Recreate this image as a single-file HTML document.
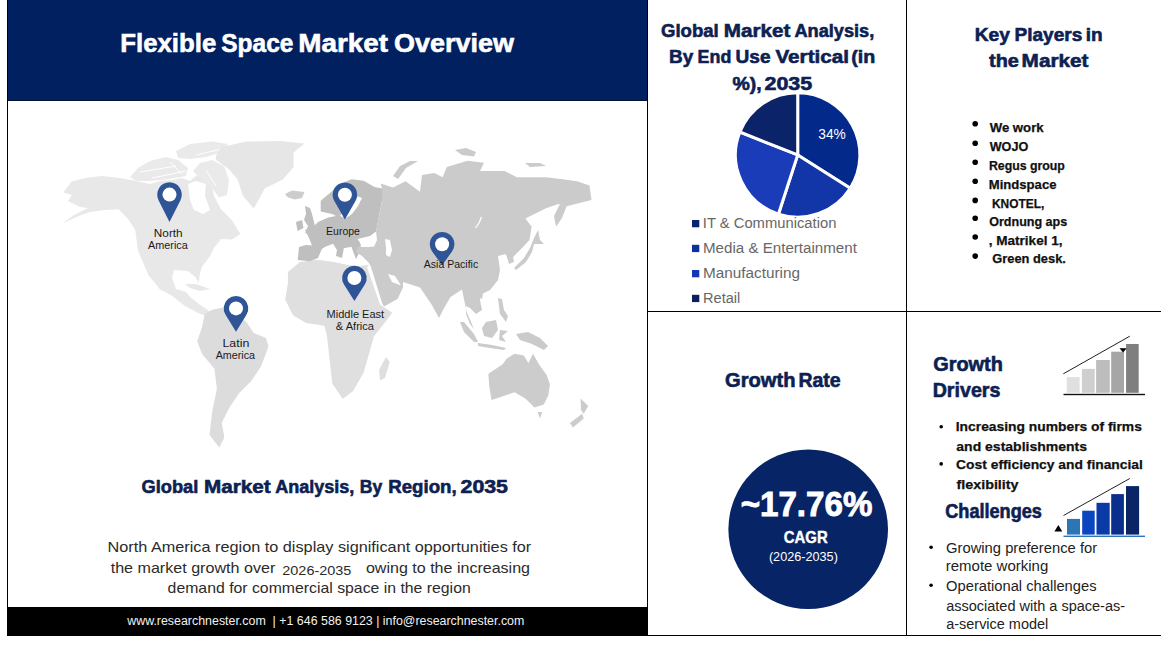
<!DOCTYPE html><html><head><meta charset="utf-8"><style>html,body{margin:0;padding:0;background:#fff;width:1161px;height:651px;overflow:hidden}svg{display:block;font-family:"Liberation Sans",sans-serif}</style></head><body>
<svg width="1161" height="651" viewBox="0 0 1161 651">
<rect x="0" y="0" width="1161" height="651" fill="#fff"/>
<rect x="7" y="0" width="641" height="100" fill="#002060"/>
<rect x="7" y="100" width="641" height="1" fill="#061336"/>
<rect x="7" y="0" width="1" height="636" fill="#000"/>
<rect x="647" y="0" width="1" height="636" fill="#000"/>
<rect x="7" y="607" width="641" height="29" fill="#000"/>
<text x="120.28" y="51.8" font-size="25.87" font-weight="bold" fill="#fff" textLength="96.01" lengthAdjust="spacingAndGlyphs" stroke="#fff" stroke-width="0.6" >Flexible</text>
<text x="221.29" y="51.8" font-size="25.87" font-weight="bold" fill="#fff" textLength="72.14" lengthAdjust="spacingAndGlyphs" stroke="#fff" stroke-width="0.6" >Space</text>
<text x="298.24" y="51.8" font-size="25.87" font-weight="bold" fill="#fff" textLength="89.70" lengthAdjust="spacingAndGlyphs" stroke="#fff" stroke-width="0.6" >Market</text>
<text x="393.99" y="51.8" font-size="25.87" font-weight="bold" fill="#fff" textLength="119.95" lengthAdjust="spacingAndGlyphs" stroke="#fff" stroke-width="0.6" >Overview</text>
<path d="M63.3,192.6 L71.6,181.5 L85.0,178.0 L102.0,176.0 L120.0,178.0 L138.0,181.5 L150.0,184.0 L160.0,181.0 L172.0,180.0 L182.0,178.0 L190.0,181.0 L196.0,176.0 L206.0,178.0 L212.0,186.0 L214.0,196.0 L221.0,209.2 L232.0,220.2 L240.3,234.0 L232.0,239.6 L221.0,239.0 L214.0,248.0 L209.9,256.2 L201.6,267.2 L199.5,276.0 L198.8,283.0 L195.5,277.0 L188.0,271.0 L174.0,270.0 L172.0,278.0 L176.0,289.0 L186.0,292.0 L190.0,297.0 L199.0,304.0 L210.0,311.5 L206.0,316.0 L198.0,313.0 L185.0,306.0 L171.0,295.0 L160.0,289.4 L149.0,275.5 L155.0,290.0 L146.3,270.0 L138.0,250.6 L135.2,230.0 L128.0,219.0 L118.6,209.2 L104.0,210.0 L90.0,212.0 L76.0,217.0 L62.0,224.0 L74.0,215.0 L88.0,208.0 L80.0,207.0 L68.0,201.0 L72.0,195.0 Z" fill="#e8e8e8"/>
<path d="M188.0,184.0 L196.0,181.0 L206.0,184.0 L205.0,196.0 L210.0,210.0 L203.0,214.0 L194.0,210.0 L190.0,200.0 Z" fill="#fff"/>
<path d="M130.0,177.0 L138.0,168.0 L150.0,161.0 L166.0,157.0 L178.0,160.0 L188.0,168.0 L186.0,176.0 L170.0,179.0 L150.0,181.0 L136.0,181.0 Z" fill="#eaeaea"/>
<path d="M176.0,151.0 L190.0,144.0 L212.0,141.5 L228.0,144.0 L222.0,152.0 L206.0,157.0 L190.0,159.0 L178.0,158.0 Z" fill="#eaeaea"/>
<path d="M193.0,171.0 L200.0,163.0 L212.0,160.0 L224.0,166.0 L229.0,180.0 L227.0,195.0 L219.0,197.5 L211.0,187.0 L200.0,179.0 Z" fill="#eaeaea"/>
<line x1="140" y1="172" x2="176" y2="166" stroke="#fff" stroke-width="1"/>
<line x1="152" y1="178" x2="186" y2="171" stroke="#fff" stroke-width="1"/>
<line x1="170" y1="162" x2="182" y2="174" stroke="#fff" stroke-width="1"/>
<line x1="196" y1="155" x2="222" y2="149" stroke="#fff" stroke-width="1"/>
<line x1="206" y1="170" x2="216" y2="186" stroke="#fff" stroke-width="1"/>
<path d="M215.9,156.0 L221.3,147.0 L246.6,141.6 L280.0,141.0 L304.5,143.4 L293.6,152.5 L293.6,167.0 L282.8,179.6 L264.7,188.6 L253.8,208.5 L243.0,195.9 L237.6,179.6 L228.5,168.7 L215.9,159.7 Z" fill="#e6e6e6"/>
<path d="M285.0,194.0 L292.0,190.5 L304.5,192.0 L302.0,198.0 L295.0,199.5 L288.0,197.5 Z" fill="#cdcdcd"/>
<path d="M185.0,284.0 L196.0,284.0 L210.0,289.0 L200.0,291.0 L190.0,288.0 Z" fill="#e8e8e8"/>
<path d="M204.6,314.6 L212.0,309.7 L224.3,307.2 L235.0,312.0 L246.4,322.0 L253.8,333.0 L266.0,338.0 L268.5,346.6 L261.1,366.2 L251.3,381.0 L239.0,393.3 L229.2,408.0 L221.8,422.8 L224.3,437.5 L219.3,447.4 L209.5,435.0 L212.0,413.0 L216.9,388.4 L214.4,368.7 L202.1,354.0 L197.2,341.6 L202.1,326.9 Z" fill="#dcdcdc"/>
<path d="M288.0,272.0 L300.0,262.0 L317.6,259.8 L334.0,262.0 L348.0,265.0 L360.0,266.0 L369.0,265.0 L367.0,267.0 L380.0,304.6 L392.3,312.7 L384.5,323.1 L374.0,336.2 L368.8,354.5 L363.6,372.7 L353.1,391.0 L342.7,398.9 L332.2,383.2 L329.6,359.7 L327.0,336.2 L324.4,325.7 L306.1,323.1 L293.0,315.3 L285.2,299.6 L287.8,284.0 Z" fill="#dfdfdf"/>
<path d="M386.0,357.0 L389.7,362.0 L385.0,378.0 L380.0,380.6 L379.0,370.0 Z" fill="#dfdfdf"/>
<path d="M297.7,260.0 L299.0,247.0 L306.0,245.0 L312.0,245.5 L309.0,238.0 L305.0,230.0 L312.0,228.0 L318.0,222.0 L328.4,217.6 L336.0,216.0 L332.0,214.0 L320.7,211.5 L320.7,200.7 L330.0,193.0 L340.7,183.8 L351.4,179.2 L363.7,180.8 L374.5,186.9 L382.0,188.4 L382.0,200.7 L376.0,231.4 L370.0,236.0 L357.6,239.0 L360.7,242.2 L360.7,249.9 L356.0,259.0 L351.4,246.8 L343.8,248.3 L342.0,258.0 L336.0,256.0 L337.0,249.9 L333.0,243.7 L325.3,246.8 L321.8,249.0 L318.0,258.0 L310.0,261.2 Z" fill="#bfbfbf"/>
<path d="M350.0,198.0 L356.0,196.0 L362.0,198.0 L358.0,206.0 L352.0,214.0 L346.0,218.0 L340.0,216.0 L346.0,208.0 Z" fill="#fff"/>
<path d="M305.0,206.0 L310.0,208.0 L312.0,214.0 L315.0,226.0 L313.0,232.0 L305.0,233.5 L308.0,226.0 L304.0,220.0 L306.0,214.0 Z" fill="#bfbfbf"/>
<path d="M296.0,222.0 L302.0,220.0 L303.5,228.0 L297.5,231.0 Z" fill="#bfbfbf"/>
<path d="M382.0,188.4 L380.7,183.4 L393.0,187.5 L405.5,181.3 L420.0,191.7 L422.0,175.0 L434.4,173.0 L442.7,177.2 L446.8,166.9 L467.5,160.7 L484.0,162.7 L480.0,171.0 L504.7,171.0 L517.0,177.2 L546.0,177.2 L562.6,179.3 L577.0,181.3 L589.5,185.5 L591.5,200.0 L566.7,206.2 L558.4,204.0 L546.0,208.2 L525.4,218.6 L531.6,226.8 L529.5,240.0 L522.0,248.0 L514.0,256.0 L510.0,262.0 L506.0,254.0 L498.0,256.0 L500.0,270.0 L498.0,280.0 L490.0,290.0 L482.0,294.0 L480.0,300.0 L482.0,310.0 L476.0,314.0 L470.0,308.0 L466.0,306.0 L466.0,314.0 L470.0,324.0 L474.0,329.0 L466.7,312.0 L462.0,289.4 L450.5,297.0 L443.0,310.0 L439.0,318.0 L431.6,304.6 L420.0,287.5 L403.0,282.0 L403.0,287.5 L397.5,299.0 L384.0,306.5 L382.0,302.7 L371.0,267.0 L369.0,263.0 L362.0,256.0 L356.0,252.0 L358.0,247.0 L370.0,247.0 L377.0,240.0 L376.0,231.4 L382.0,200.7 Z" fill="#cbcbcb"/>
<path d="M481.5,217 L479,223 L475.5,228" stroke="#fff" stroke-width="1.3" fill="none"/>
<path d="M388.0,274.0 L395.0,276.0 L401.0,285.6 L392.0,282.0 Z" fill="#fff"/>
<path d="M385.0,239.0 L390.0,240.0 L392.0,250.0 L390.0,257.0 L386.0,255.0 L386.0,247.0 Z" fill="#fff"/>
<path d="M358.0,239.5 L370.0,237.0 L377.0,240.0 L374.0,246.8 L362.0,246.0 Z" fill="#fff"/>
<path d="M393.0,176.0 L400.0,166.0 L410.0,161.0 L418.0,161.0 L406.0,168.0 L398.0,179.0 Z" fill="#cbcbcb"/>
<path d="M455.0,150.0 L466.0,148.0 L476.0,152.0 L474.0,156.5 L462.0,155.0 Z" fill="#cbcbcb"/>
<path d="M525.0,163.0 L540.0,163.0 L546.0,166.0 L530.0,167.0 Z" fill="#cbcbcb"/>
<path d="M560.0,204.0 L566.7,206.0 L562.0,218.0 L556.0,226.8 L554.0,216.0 Z" fill="#cbcbcb"/>
<path d="M538.0,230.0 L540.0,240.0 L544.0,244.0 L534.0,244.0 L532.0,252.0 L526.0,262.0 L516.0,270.0 L514.0,268.0 L524.0,258.0 L530.0,248.0 L534.0,238.0 Z" fill="#cbcbcb"/>
<path d="M506.0,254.0 L512.0,252.0 L514.0,262.0 L509.0,264.0 Z" fill="#cbcbcb"/>
<path d="M478.0,295.0 L483.0,294.0 L482.0,299.0 Z" fill="#cbcbcb"/>
<path d="M498.0,298.0 L502.0,299.0 L504.0,310.0 L508.0,316.0 L506.0,322.0 L500.0,314.0 L499.0,306.0 Z" fill="#cbcbcb"/>
<path d="M460.0,322.0 L464.0,322.0 L474.0,334.0 L478.0,342.0 L474.0,342.0 L464.0,332.0 Z" fill="#cbcbcb"/>
<path d="M478.0,343.0 L492.0,345.0 L506.0,348.0 L504.0,350.0 L490.0,348.0 L478.0,346.0 Z" fill="#cbcbcb"/>
<path d="M486.0,322.0 L496.0,320.0 L498.0,330.0 L492.0,338.0 L484.0,336.0 L482.0,328.0 Z" fill="#cbcbcb"/>
<path d="M500.0,330.0 L508.0,331.0 L502.0,336.0 L506.0,342.0 L499.0,340.0 Z" fill="#cbcbcb"/>
<path d="M516.0,334.0 L528.0,332.0 L540.0,338.0 L548.0,346.0 L544.0,350.0 L532.0,344.0 L520.0,340.0 Z" fill="#cbcbcb"/>
<path d="M488.4,373.8 L502.3,364.6 L506.9,358.4 L514.6,353.8 L523.8,355.4 L528.4,363.0 L533.0,353.8 L539.1,364.6 L546.8,375.3 L549.9,384.6 L548.4,395.3 L543.8,404.5 L534.5,407.6 L525.3,398.4 L514.6,392.2 L500.7,396.9 L491.5,399.9 L489.2,386.1 Z" fill="#cccccc"/>
<path d="M537.6,412.0 L542.2,412.0 L540.0,418.4 Z" fill="#cccccc"/>
<path d="M580.6,398.4 L588.3,406.0 L583.7,413.8 L581.0,410.0 Z" fill="#cccccc"/>
<path d="M582.2,413.8 L583.7,418.4 L573.0,427.6 L569.9,423.0 Z" fill="#cccccc"/>
<path d="M158.52,200.14 A12.3,12.3 0 1 1 180.48,200.14 L169.50,221.90 Z" fill="#2f5597"/>
<circle cx="169.5" cy="194.60" r="7" fill="#fff"/>
<path d="M334.22,200.80 A12.3,12.3 0 1 1 355.58,200.80 L344.90,219.50 Z" fill="#2f5597"/>
<circle cx="344.9" cy="194.70" r="7" fill="#fff"/>
<path d="M432.13,251.40 A12.3,12.3 0 1 1 452.07,251.40 L442.10,265.20 Z" fill="#2f5597"/>
<circle cx="442.1" cy="244.20" r="7" fill="#fff"/>
<path d="M344.01,284.58 A12.3,12.3 0 1 1 364.79,284.58 L354.40,301.00 Z" fill="#2f5597"/>
<circle cx="354.4" cy="278.00" r="7" fill="#fff"/>
<path d="M225.54,314.87 A12.3,12.3 0 1 1 246.46,314.87 L236.00,331.80 Z" fill="#2f5597"/>
<circle cx="236" cy="308.40" r="7" fill="#fff"/>
<text x="153.83" y="236.7" font-size="11.05" font-weight="normal" fill="#1a1a1a" textLength="28.83" lengthAdjust="spacingAndGlyphs" >North</text>
<text x="148.08" y="248.8" font-size="11.05" font-weight="normal" fill="#1a1a1a" textLength="39.72" lengthAdjust="spacingAndGlyphs" >America</text>
<text x="326.14" y="234.9" font-size="10.47" font-weight="normal" fill="#1a1a1a" textLength="33.83" lengthAdjust="spacingAndGlyphs" >Europe</text>
<text x="423.78" y="268.3" font-size="10.61" font-weight="normal" fill="#1a1a1a" textLength="54.40" lengthAdjust="spacingAndGlyphs" >Asia Pacific</text>
<text x="326.60" y="317.9" font-size="10.61" font-weight="normal" fill="#1a1a1a" textLength="57.48" lengthAdjust="spacingAndGlyphs" >Middle East</text>
<text x="335.82" y="329.7" font-size="10.61" font-weight="normal" fill="#1a1a1a" textLength="38.18" lengthAdjust="spacingAndGlyphs" >&amp; Africa</text>
<text x="222.49" y="347.0" font-size="10.61" font-weight="normal" fill="#1a1a1a" textLength="26.82" lengthAdjust="spacingAndGlyphs" >Latin</text>
<text x="215.68" y="358.8" font-size="10.61" font-weight="normal" fill="#1a1a1a" textLength="39.32" lengthAdjust="spacingAndGlyphs" >America</text>
<text x="141.45" y="493.1" font-size="18.90" font-weight="bold" fill="#0c2152" textLength="56.84" lengthAdjust="spacingAndGlyphs" stroke="#0c2152" stroke-width="0.6" >Global</text>
<text x="203.92" y="493.1" font-size="18.90" font-weight="bold" fill="#0c2152" textLength="66.74" lengthAdjust="spacingAndGlyphs" stroke="#0c2152" stroke-width="0.6" >Market</text>
<text x="275.15" y="493.1" font-size="18.90" font-weight="bold" fill="#0c2152" textLength="79.15" lengthAdjust="spacingAndGlyphs" stroke="#0c2152" stroke-width="0.6" >Analysis,</text>
<text x="359.82" y="493.1" font-size="18.90" font-weight="bold" fill="#0c2152" textLength="22.47" lengthAdjust="spacingAndGlyphs" stroke="#0c2152" stroke-width="0.6" >By</text>
<text x="388.25" y="493.1" font-size="18.90" font-weight="bold" fill="#0c2152" textLength="68.40" lengthAdjust="spacingAndGlyphs" stroke="#0c2152" stroke-width="0.6" >Region,</text>
<text x="460.56" y="493.1" font-size="18.90" font-weight="bold" fill="#0c2152" textLength="47.43" lengthAdjust="spacingAndGlyphs" stroke="#0c2152" stroke-width="0.6" >2035</text>
<text x="107.57" y="551.8" font-size="14.97" font-weight="normal" fill="#2b2b2b" textLength="423.70" lengthAdjust="spacingAndGlyphs" >North America region to display significant opportunities for</text>
<text x="110.66" y="572.6" font-size="14.97" font-weight="normal" fill="#2b2b2b" textLength="164.61" lengthAdjust="spacingAndGlyphs" >the market growth over</text>
<text x="282.27" y="574.8" font-size="13.66" font-weight="normal" fill="#2b2b2b" textLength="69.13" lengthAdjust="spacingAndGlyphs" >2026-2035</text>
<text x="365.93" y="572.6" font-size="14.97" font-weight="normal" fill="#2b2b2b" textLength="164.11" lengthAdjust="spacingAndGlyphs" >owing to the increasing</text>
<text x="167.64" y="593.4" font-size="14.97" font-weight="normal" fill="#2b2b2b" textLength="303.09" lengthAdjust="spacingAndGlyphs" >demand for commercial space in the region</text>
<text x="127.22" y="624.5" font-size="12.50" font-weight="normal" fill="#f2f2f2" textLength="397.10" lengthAdjust="spacingAndGlyphs" xml:space="preserve">www.researchnester.com  | +1 646 586 9123 | info@researchnester.com</text>
<rect x="906" y="0" width="1" height="636" fill="#000"/>
<rect x="647" y="311" width="514" height="1" fill="#000"/>
<rect x="647" y="635" width="514" height="1" fill="#000"/>
<text x="661.04" y="37.0" font-size="18.90" font-weight="bold" fill="#0c2152" textLength="57.67" lengthAdjust="spacingAndGlyphs" stroke="#0c2152" stroke-width="0.6" >Global</text>
<text x="723.82" y="37.0" font-size="18.90" font-weight="bold" fill="#0c2152" textLength="66.53" lengthAdjust="spacingAndGlyphs" stroke="#0c2152" stroke-width="0.6" >Market</text>
<text x="794.45" y="37.0" font-size="18.90" font-weight="bold" fill="#0c2152" textLength="79.77" lengthAdjust="spacingAndGlyphs" stroke="#0c2152" stroke-width="0.6" >Analysis,</text>
<text x="669.14" y="63.2" font-size="18.90" font-weight="bold" fill="#0c2152" textLength="24.17" lengthAdjust="spacingAndGlyphs" stroke="#0c2152" stroke-width="0.6" >By</text>
<text x="697.61" y="63.2" font-size="18.90" font-weight="bold" fill="#0c2152" textLength="33.67" lengthAdjust="spacingAndGlyphs" stroke="#0c2152" stroke-width="0.6" >End</text>
<text x="735.55" y="63.2" font-size="18.90" font-weight="bold" fill="#0c2152" textLength="35.00" lengthAdjust="spacingAndGlyphs" stroke="#0c2152" stroke-width="0.6" >Use</text>
<text x="775.46" y="63.2" font-size="18.90" font-weight="bold" fill="#0c2152" textLength="73.58" lengthAdjust="spacingAndGlyphs" stroke="#0c2152" stroke-width="0.6" >Vertical</text>
<text x="851.32" y="63.2" font-size="18.90" font-weight="bold" fill="#0c2152" textLength="24.00" lengthAdjust="spacingAndGlyphs" stroke="#0c2152" stroke-width="0.6" >(in</text>
<text x="732.52" y="89.5" font-size="18.90" font-weight="bold" fill="#0c2152" textLength="29.19" lengthAdjust="spacingAndGlyphs" stroke="#0c2152" stroke-width="0.6" >%),</text>
<text x="764.46" y="89.5" font-size="18.90" font-weight="bold" fill="#0c2152" textLength="47.74" lengthAdjust="spacingAndGlyphs" stroke="#0c2152" stroke-width="0.6" >2035</text>
<path d="M797.7,154.9 L797.70,92.70 A62.2,62.2 0 0 1 850.22,188.23 Z" fill="#03298a" stroke="#fff" stroke-width="3" stroke-linejoin="miter"/>
<path d="M797.7,154.9 L850.22,188.23 A62.2,62.2 0 0 1 778.48,214.06 Z" fill="#1235a8" stroke="#fff" stroke-width="3" stroke-linejoin="miter"/>
<path d="M797.7,154.9 L778.48,214.06 A62.2,62.2 0 0 1 739.87,132.00 Z" fill="#1a3cb8" stroke="#fff" stroke-width="3" stroke-linejoin="miter"/>
<path d="M797.7,154.9 L739.87,132.00 A62.2,62.2 0 0 1 797.70,92.70 Z" fill="#0b2368" stroke="#fff" stroke-width="3" stroke-linejoin="miter"/>
<text x="818.28" y="138.9" font-size="14.39" font-weight="normal" fill="#fff" textLength="27.51" lengthAdjust="spacingAndGlyphs" >34%</text>
<rect x="692" y="220.0" width="7.3" height="7.3" fill="#0b2470"/>
<text x="702.84" y="227.8" font-size="14.24" font-weight="normal" fill="#676767" textLength="133.52" lengthAdjust="spacingAndGlyphs" >IT &amp; Communication</text>
<rect x="692" y="244.8" width="7.3" height="7.3" fill="#0d32a0"/>
<text x="702.96" y="252.6" font-size="14.24" font-weight="normal" fill="#676767" textLength="153.95" lengthAdjust="spacingAndGlyphs" >Media &amp; Entertainment</text>
<rect x="692" y="270.0" width="7.3" height="7.3" fill="#1538b0"/>
<text x="702.94" y="277.8" font-size="14.24" font-weight="normal" fill="#676767" textLength="97.04" lengthAdjust="spacingAndGlyphs" >Manufacturing</text>
<rect x="692" y="294.8" width="7.3" height="7.3" fill="#0a1f5c"/>
<text x="703.00" y="302.6" font-size="14.24" font-weight="normal" fill="#676767" textLength="37.27" lengthAdjust="spacingAndGlyphs" >Retail</text>
<text x="974.72" y="41.2" font-size="18.60" font-weight="bold" fill="#0c2152" textLength="35.19" lengthAdjust="spacingAndGlyphs" stroke="#0c2152" stroke-width="0.6" >Key</text>
<text x="1014.53" y="41.2" font-size="18.60" font-weight="bold" fill="#0c2152" textLength="67.75" lengthAdjust="spacingAndGlyphs" stroke="#0c2152" stroke-width="0.6" >Players</text>
<text x="1085.67" y="41.2" font-size="18.60" font-weight="bold" fill="#0c2152" textLength="16.91" lengthAdjust="spacingAndGlyphs" stroke="#0c2152" stroke-width="0.6" >in</text>
<text x="989.06" y="67.3" font-size="18.60" font-weight="bold" fill="#0c2152" textLength="29.82" lengthAdjust="spacingAndGlyphs" stroke="#0c2152" stroke-width="0.6" >the</text>
<text x="1021.61" y="67.3" font-size="18.60" font-weight="bold" fill="#0c2152" textLength="66.84" lengthAdjust="spacingAndGlyphs" stroke="#0c2152" stroke-width="0.6" >Market</text>
<circle cx="975.2" cy="123.8" r="2.8" fill="#000"/>
<text x="989.69" y="131.8" font-size="12.65" font-weight="bold" fill="#111" textLength="53.90" lengthAdjust="spacingAndGlyphs" stroke="#111" stroke-width="0.25" >We work</text>
<circle cx="975.2" cy="143.2" r="2.8" fill="#000"/>
<text x="989.69" y="150.8" font-size="12.65" font-weight="bold" fill="#111" textLength="38.54" lengthAdjust="spacingAndGlyphs" stroke="#111" stroke-width="0.25" >WOJO</text>
<circle cx="975.2" cy="162.3" r="2.8" fill="#000"/>
<text x="988.88" y="169.7" font-size="12.65" font-weight="bold" fill="#111" textLength="76.03" lengthAdjust="spacingAndGlyphs" stroke="#111" stroke-width="0.25" >Regus group</text>
<circle cx="975.2" cy="181.2" r="2.8" fill="#000"/>
<text x="988.82" y="188.8" font-size="12.65" font-weight="bold" fill="#111" textLength="67.62" lengthAdjust="spacingAndGlyphs" stroke="#111" stroke-width="0.25" >Mindspace</text>
<circle cx="975.2" cy="200.4" r="2.8" fill="#000"/>
<text x="992.00" y="208.0" font-size="12.65" font-weight="bold" fill="#111" textLength="52.40" lengthAdjust="spacingAndGlyphs" stroke="#111" stroke-width="0.25" >KNOTEL,</text>
<circle cx="975.2" cy="218.3" r="2.8" fill="#000"/>
<text x="989.19" y="225.7" font-size="12.65" font-weight="bold" fill="#111" textLength="78.03" lengthAdjust="spacingAndGlyphs" stroke="#111" stroke-width="0.25" >Ordnung aps</text>
<circle cx="975.2" cy="237" r="2.8" fill="#000"/>
<text x="988.78" y="244.6" font-size="12.65" font-weight="bold" fill="#111" textLength="73.72" lengthAdjust="spacingAndGlyphs" stroke="#111" stroke-width="0.25" >, Matrikel 1,</text>
<circle cx="975.2" cy="256.1" r="2.8" fill="#000"/>
<text x="992.27" y="263.3" font-size="12.65" font-weight="bold" fill="#111" textLength="73.61" lengthAdjust="spacingAndGlyphs" stroke="#111" stroke-width="0.25" >Green desk.</text>
<text x="725.07" y="386.5" font-size="19.77" font-weight="bold" fill="#0c2152" textLength="70.47" lengthAdjust="spacingAndGlyphs" stroke="#0c2152" stroke-width="0.6" >Growth</text>
<text x="798.40" y="386.5" font-size="19.77" font-weight="bold" fill="#0c2152" textLength="42.27" lengthAdjust="spacingAndGlyphs" stroke="#0c2152" stroke-width="0.6" >Rate</text>
<circle cx="808.2" cy="529.2" r="79.8" fill="#072466"/>
<text x="740.69" y="516.0" font-size="34.16" font-weight="bold" fill="#fff" textLength="131.68" lengthAdjust="spacingAndGlyphs" stroke="#fff" stroke-width="0.9" >~17.76%</text>
<text x="783.79" y="542.8" font-size="16.86" font-weight="bold" fill="#fff" textLength="43.92" lengthAdjust="spacingAndGlyphs" stroke="#fff" stroke-width="0.4" >CAGR</text>
<text x="768.91" y="561.0" font-size="12.30" font-weight="normal" fill="#fff" textLength="68.97" lengthAdjust="spacingAndGlyphs" >(2026-2035)</text>
<text x="933.18" y="371.0" font-size="20.06" font-weight="bold" fill="#0c2152" textLength="69.75" lengthAdjust="spacingAndGlyphs" stroke="#0c2152" stroke-width="0.6" >Growth</text>
<text x="932.69" y="397.2" font-size="20.06" font-weight="bold" fill="#0c2152" textLength="67.72" lengthAdjust="spacingAndGlyphs" stroke="#0c2152" stroke-width="0.6" >Drivers</text>
<line x1="1063.3" y1="373.8" x2="1129.8" y2="336.2" stroke="#222" stroke-width="1"/>
<rect x="1066.8" y="377.1" width="12.8" height="15.7" fill="#e0e0e0"/>
<rect x="1081.9" y="368.9" width="12.8" height="23.9" fill="#cfcfcf"/>
<rect x="1096.1" y="360" width="13.7" height="32.8" fill="#bdbdbd"/>
<rect x="1111.2" y="351.7" width="12.8" height="41.1" fill="#a6a6a6"/>
<rect x="1126.1" y="344" width="12.6" height="48.8" fill="#7f7f7f"/>
<rect x="1063.5" y="393.8" width="81.5" height="1.4" fill="#111"/>
<path d="M1119.5,348.2 L1126.7,348.2 L1123.1,352.5 Z" fill="#000"/>
<circle cx="941.2" cy="426.8" r="1.8" fill="#000"/>
<circle cx="941.2" cy="463.9" r="1.8" fill="#000"/>
<text x="955.77" y="431.4" font-size="13.23" font-weight="bold" fill="#111" textLength="186.09" lengthAdjust="spacingAndGlyphs" stroke="#111" stroke-width="0.25" >Increasing numbers of firms</text>
<text x="956.29" y="450.6" font-size="13.23" font-weight="bold" fill="#111" textLength="130.78" lengthAdjust="spacingAndGlyphs" stroke="#111" stroke-width="0.25" >and establishments</text>
<text x="956.13" y="469.4" font-size="13.23" font-weight="bold" fill="#111" textLength="186.75" lengthAdjust="spacingAndGlyphs" stroke="#111" stroke-width="0.25" >Cost efficiency and financial</text>
<text x="956.46" y="489.2" font-size="13.23" font-weight="bold" fill="#111" textLength="62.12" lengthAdjust="spacingAndGlyphs" stroke="#111" stroke-width="0.25" >flexibility</text>
<text x="945.26" y="517.6" font-size="19.33" font-weight="bold" fill="#0c2152" textLength="96.59" lengthAdjust="spacingAndGlyphs" stroke="#0c2152" stroke-width="0.6" >Challenges</text>
<line x1="1063.5" y1="515.5" x2="1129.8" y2="478.5" stroke="#222" stroke-width="1"/>
<rect x="1067" y="518.9" width="13.0" height="15.7" fill="#2e75b6"/>
<rect x="1082.2" y="510.7" width="12.5" height="23.9" fill="#0b45c0"/>
<rect x="1096.5" y="502.8" width="13.2" height="31.8" fill="#0a3aa5"/>
<rect x="1111.2" y="494.1" width="12.7" height="40.5" fill="#0a2e8c"/>
<rect x="1126" y="486.1" width="13.1" height="48.5" fill="#0a2466"/>
<rect x="1063.5" y="535.6" width="81.5" height="1.4" fill="#2e75b6"/>
<path d="M1054.4,531.6 L1062.3,531.6 L1058.35,525 Z" fill="#000"/>
<circle cx="931.1" cy="547.3" r="1.8" fill="#000"/>
<circle cx="931.1" cy="585.2" r="1.8" fill="#000"/>
<text x="946.06" y="553.0" font-size="13.81" font-weight="normal" fill="#222" textLength="151.09" lengthAdjust="spacingAndGlyphs" >Growing preference for</text>
<text x="945.80" y="571.4" font-size="13.81" font-weight="normal" fill="#222" textLength="102.46" lengthAdjust="spacingAndGlyphs" >remote working</text>
<text x="946.10" y="590.9" font-size="13.81" font-weight="normal" fill="#222" textLength="150.43" lengthAdjust="spacingAndGlyphs" >Operational challenges</text>
<text x="946.18" y="610.8" font-size="13.81" font-weight="normal" fill="#222" textLength="178.86" lengthAdjust="spacingAndGlyphs" >associated with a space-as-</text>
<text x="946.19" y="629.2" font-size="13.81" font-weight="normal" fill="#222" textLength="102.08" lengthAdjust="spacingAndGlyphs" >a-service model</text>
</svg></body></html>
